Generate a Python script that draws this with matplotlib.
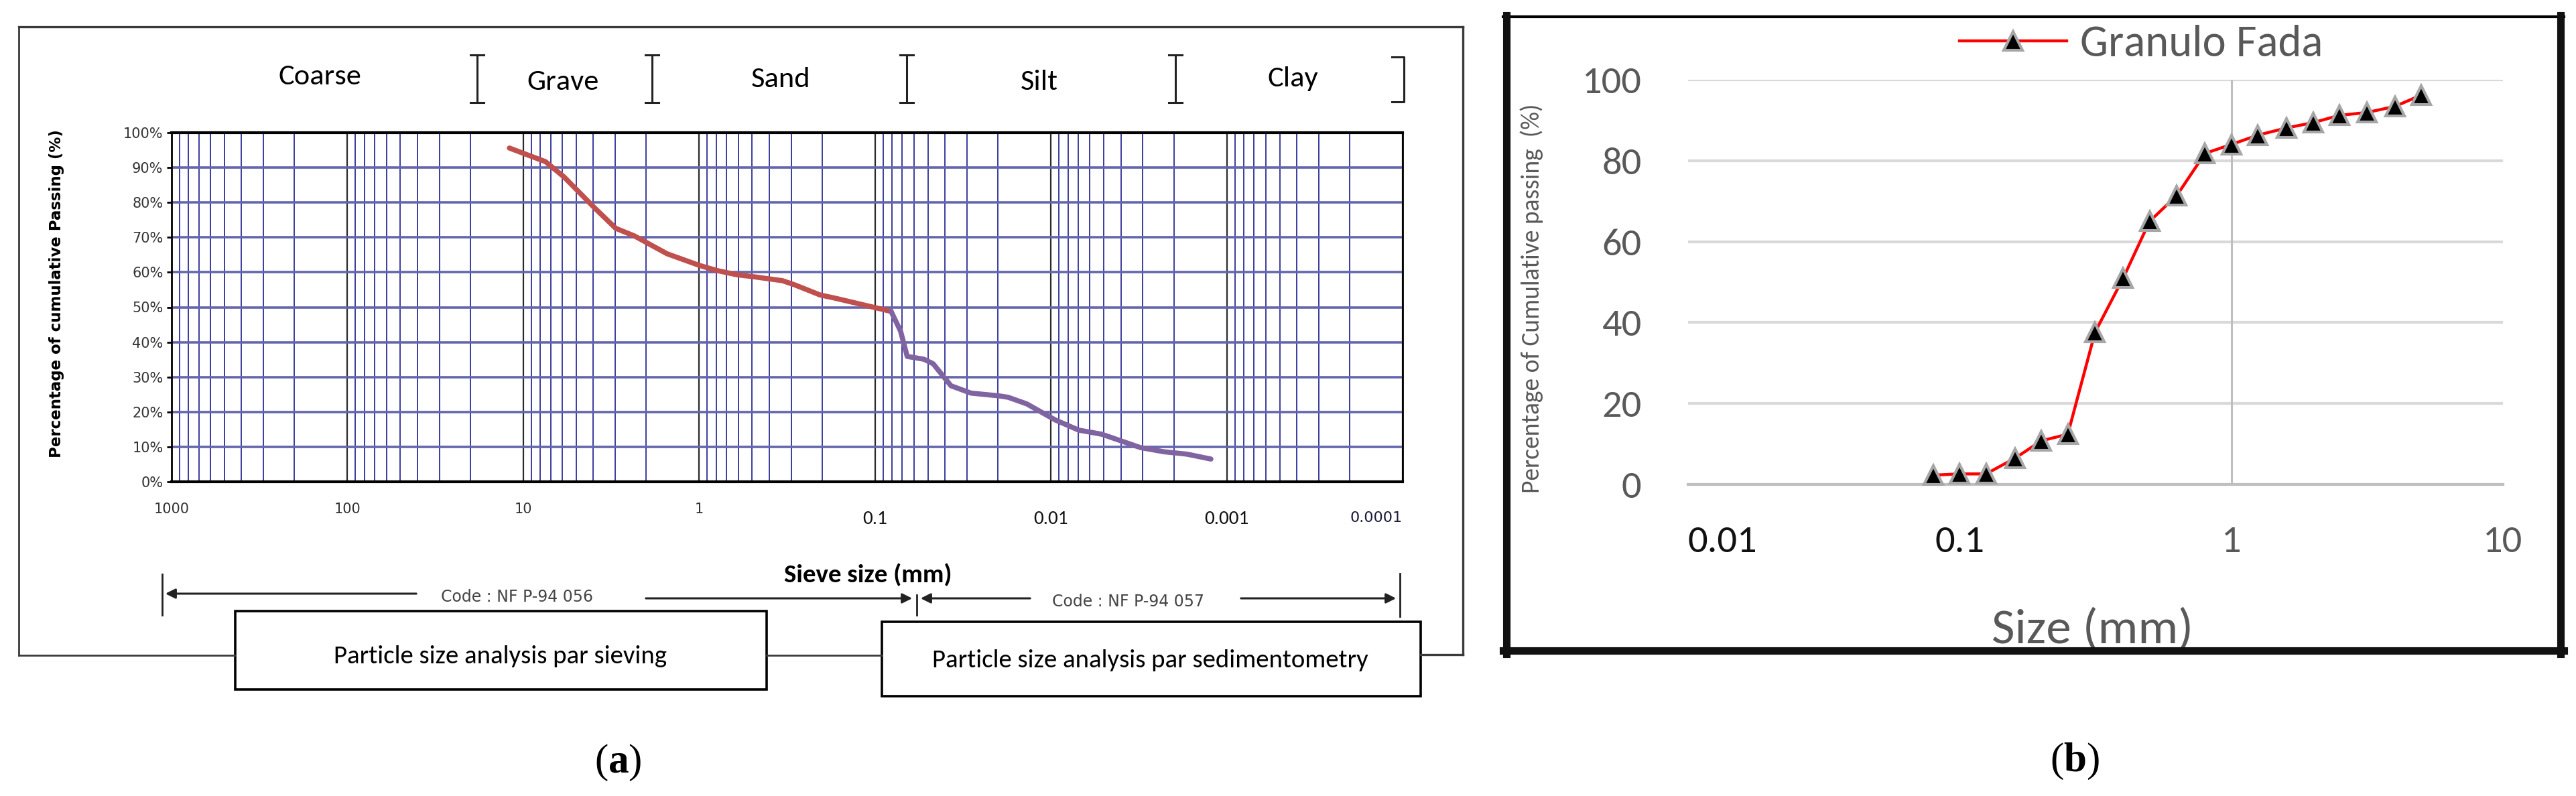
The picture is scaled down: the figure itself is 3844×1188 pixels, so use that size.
import numpy as np
import matplotlib
matplotlib.use("Agg")
import matplotlib.pyplot as plt
from matplotlib import font_manager
from matplotlib.lines import Line2D
from matplotlib.patches import Rectangle, FancyArrowPatch
from matplotlib.ticker import FixedLocator, NullLocator, LogLocator

# ---- data, panel (a): sieving + sedimentometry curves
sieve_size = [12.0, 7.48, 5.86, 3.94, 2.98, 2.33, 1.52, 1.0, 0.79, 0.61,
              0.485, 0.336, 0.286, 0.205, 0.169, 0.124, 0.081]
sieve_pct = [95.6, 91.7, 87.3, 78.5, 72.6, 70.4, 65.3, 62.0, 60.5, 59.3,
             58.7, 57.6, 56.4, 53.5, 52.6, 51.0, 48.8]
sedim_size = [0.081, 0.0716, 0.0656, 0.0527, 0.0467, 0.037, 0.0285, 0.0197,
              0.0175, 0.0137, 0.00944, 0.00695, 0.00512, 0.0031, 0.00228,
              0.00168, 0.00123]
sedim_pct = [48.8, 43.2, 35.9, 35.1, 33.8, 27.5, 25.4, 24.6, 24.2, 22.3,
             17.7, 14.8, 13.6, 9.8, 8.6, 7.9, 6.5]
a_xticks = [1000, 100, 10, 1, 0.1, 0.01, 0.001, 0.0001]
a_xlabels = ['1000', '100', '10', '1', '0.1', '0.01', '0.001', '0.0001']
a_yticks = list(range(0, 101, 10))
zones = ['Coarse', 'Grave', 'Sand', 'Silt', 'Clay']

# ---- data, panel (b): Granulo Fada
fada_size = [5.0, 4.0, 3.15, 2.5, 2.0, 1.6, 1.25, 1.0, 0.8, 0.63, 0.5, 0.4,
             0.315, 0.25, 0.2, 0.16, 0.125, 0.1, 0.08]
fada_pct = [96.2, 93.4, 91.9, 91.2, 89.4, 88.1, 86.3, 84.0, 81.8, 71.4, 65.0,
            51.0, 37.6, 12.4, 10.8, 6.5, 2.6, 2.6, 2.3]
b_xticks = [0.01, 0.1, 1, 10]
b_xlabels = ['0.01', '0.1', '1', '10']
b_yticks = [0, 20, 40, 60, 80, 100]

names = {f.name for f in font_manager.fontManager.ttflist}
def pick(*cands):
    for c in cands:
        if c in names:
            return c
    return 'DejaVu Sans'

calib = pick('Carlito', 'Lato', 'Open Sans')
gothic = 'DejaVu Sans'
serif = pick('Liberation Serif', 'DejaVu Serif')
plt.rcParams['mathtext.fontset'] = 'custom'
plt.rcParams['mathtext.rm'] = serif
plt.rcParams['mathtext.bf'] = serif + ':bold'

W, H = 3844, 1188
fig = plt.figure(figsize=(W / 100, H / 100), dpi=100)

def fx(x):
    return x / W

def fy(y):
    return 1 - y / H

def fline(xs, ys, **kw):
    fig.add_artist(Line2D([fx(x) for x in xs], [fy(y) for y in ys],
                          transform=fig.transFigure, **kw))

def farrow(x0, x1, y):
    fig.add_artist(FancyArrowPatch((fx(x0), fy(y)), (fx(x1), fy(y)),
                                   transform=fig.transFigure, arrowstyle='-|>',
                                   mutation_scale=22, lw=2.2, color='#222222'))

def fbox(x0, y0, x1, y1, lw=2.6):
    fig.add_artist(Rectangle((fx(x0), fy(y1)), fx(x1) - fx(x0), fy(y0) - fy(y1),
                             transform=fig.transFigure, fill=False,
                             ec='black', lw=lw))

# ================= panel (a) =================
ax = fig.add_axes([fx(256), fy(719), fx(2093) - fx(256), fy(198) - fy(719)])
ax.set_xscale('log')
ax.set_xlim(1000, 0.0001)
ax.set_ylim(0, 100)
ax.xaxis.set_major_locator(FixedLocator(a_xticks))
ax.xaxis.set_minor_locator(LogLocator(base=10, subs=np.arange(2, 10)))
ax.set_yticks(a_yticks)
ax.set_yticklabels([f'{v}%' for v in a_yticks], fontsize=15, family=gothic,
                   color='#333333')
ax.tick_params(axis='y', length=5, width=2, pad=4, color='black')
ax.tick_params(axis='x', which='both', length=0, labelbottom=False)
ax.grid(which='minor', axis='x', color='#3b3b9e', lw=1.4)
ax.grid(which='major', axis='x', color='#2a2a2a', lw=1.6)
ax.grid(which='major', axis='y', color='#6466ad', lw=2.6)
ax.set_axisbelow(True)
for s in ['top', 'bottom']:
    ax.spines[s].set_linewidth(3)
for s in ['left', 'right']:
    ax.spines[s].set_linewidth(2)

ax.plot(sieve_size, sieve_pct, color='#c0504d', lw=5.5, solid_capstyle='round',
        solid_joinstyle='round', zorder=4)
ax.plot(sedim_size, sedim_pct, color='#8064a2', lw=5.5, solid_capstyle='round',
        solid_joinstyle='round', zorder=4)

for v, lab in zip(a_xticks, a_xlabels):
    if v >= 1:
        ax.text(v, -0.079, lab, transform=ax.get_xaxis_transform(), ha='center',
                va='center', fontsize=15, family=gothic, color='#333333')
    elif v > 0.0005:
        ax.text(v, -0.106, lab, transform=ax.get_xaxis_transform(), ha='center',
                va='center', fontsize=21, family=calib, color='#111111')
    else:
        ax.text(v, -0.104, lab, transform=ax.get_xaxis_transform(), ha='right',
                va='center', fontsize=16, family=gothic, color='#1a1a3a')

ax.set_ylabel('Percentage of cumulative Passing (%)', fontsize=16.5,
              family=gothic, fontweight='bold')
ax.yaxis.set_label_coords(-0.087, 0.539)
ax.set_xlabel('Sieve size (mm)', fontsize=28, family=calib, fontweight='bold')
ax.xaxis.set_label_coords(0.566, -0.234)

# zone names and separators above the grid
zone_x = [477, 840, 1165, 1551, 1929]
zone_y = [115, 123, 119, 123, 117]
for name, xp, yp in zip(zones, zone_x, zone_y):
    fig.text(fx(xp), fy(yp), name, ha='center', va='center', fontsize=32,
             family=calib, color='black')
for xp in [712, 973, 1353, 1754]:
    fline([xp, xp], [82, 153], color='#222222', lw=2.2)
    fline([xp - 10, xp + 10], [82, 82], color='#222222', lw=2.2)
    fline([xp - 10, xp + 10], [153, 153], color='#222222', lw=2.2)
fline([2077, 2095, 2095, 2077], [85, 85, 152, 152], color='#222222', lw=2.2)

# outer frame of panel (a)
fc = '#3a3a3a'
fline([28, 2183], [40, 40], color=fc, lw=2.4)
fline([28, 28], [40, 978], color=fc, lw=2.0)
fline([2183, 2183], [40, 977], color=fc, lw=2.4)
fline([28, 351], [978, 978], color=fc, lw=2.0)
fline([1144, 1316], [978, 978], color=fc, lw=2.0)
fline([2120, 2183], [977, 977], color=fc, lw=2.4)

# code arrows
fline([242, 242], [857, 918], color='#222222', lw=2)
farrow(624, 244, 886)
fig.text(fx(772), fy(891), 'Code : NF P-94 056', ha='center', va='center',
         fontsize=17, family=gothic, color='#444444')
farrow(961, 1364, 893)
fline([1368, 1368], [888, 918], color='#222222', lw=2)
farrow(1540, 1371, 893)
fig.text(fx(1684), fy(898), 'Code : NF P-94 057', ha='center', va='center',
         fontsize=17, family=gothic, color='#444444')
farrow(1849, 2086, 893)
fline([2089, 2089], [856, 920], color='#222222', lw=2)

fbox(351, 912, 1144, 1029)
fig.text(fx(747), fy(979), 'Particle size analysis par sieving', ha='center',
         va='center', fontsize=28, family=calib)
fbox(1316, 928, 2120, 1039)
fig.text(fx(1716), fy(985), 'Particle size analysis par sedimentometry',
         ha='center', va='center', fontsize=28, family=calib)

fig.text(fx(922), fy(1138), r'$\mathrm{(}\mathbf{a}\mathrm{)}$', ha='center',
         va='center', fontsize=44)

# ================= panel (b) =================
bx = fig.add_axes([fx(2519), fy(723), fx(3735) - fx(2519), fy(119) - fy(723)])
bx.set_xscale('log')
bx.set_xlim(0.01, 10)
bx.set_ylim(0, 100)
bx.xaxis.set_major_locator(FixedLocator(b_xticks))
bx.xaxis.set_minor_locator(NullLocator())
bx.set_xticklabels(b_xlabels, fontsize=42, family=calib)
for i, (lbl, c) in enumerate(zip(bx.get_xticklabels(),
                                 ['#111111', '#111111', '#595959', '#595959'])):
    lbl.set_color(c)
    if i == 0:
        lbl.set_horizontalalignment('left')
bx.set_yticks(b_yticks)
bx.set_yticklabels([str(v) for v in b_yticks], fontsize=42, family=calib,
                   color='#595959')
bx.tick_params(axis='both', length=0)
bx.tick_params(axis='y', pad=50)
bx.tick_params(axis='x', pad=44)
bx.grid(axis='y', color='#d9d9d9', lw=3)
bx.set_axisbelow(True)
for s in ['top', 'left', 'right']:
    bx.spines[s].set_visible(False)
bx.spines['bottom'].set_color('#bfbfbf')
bx.spines['bottom'].set_linewidth(3)
bx.axvline(1, color='#bfbfbf', lw=2.2, zorder=1)

bx.plot(fada_size, fada_pct, color='#ff0000', lw=3.2, marker='^', ms=20,
        mfc='black', mec='#a6a6a6', mew=3, label='Granulo Fada', zorder=4,
        clip_on=False)
leg = bx.legend(loc='center', bbox_to_anchor=(0.556, 1.088), frameon=False,
                prop={'family': calib, 'size': 48}, handlelength=2.4,
                handletextpad=0.3, borderpad=0)
for t in leg.get_texts():
    t.set_color('#595959')

bx.set_ylabel('Percentage of Cumulative passing  (%)', fontsize=27,
              family=calib, color='#595959')
bx.yaxis.set_label_coords(-0.178, 0.459)
bx.set_xlabel('Size (mm)', fontsize=54, family=calib, color='#595959')
bx.xaxis.set_label_coords(0.496, -0.305)

# frame of panel (b)
fline([2243, 3826], [25, 25], color='black', lw=3)
fline([2248, 2248], [23, 976], color='#111111', lw=8)
fline([3821, 3821], [23, 976], color='#111111', lw=8)
fline([2243, 3826], [971, 971], color='#111111', lw=8)

fig.text(fx(3096), fy(1136), r'$\mathrm{(}\mathbf{b}\mathrm{)}$', ha='center',
         va='center', fontsize=44)

fig.savefig('out.png', dpi=100)
